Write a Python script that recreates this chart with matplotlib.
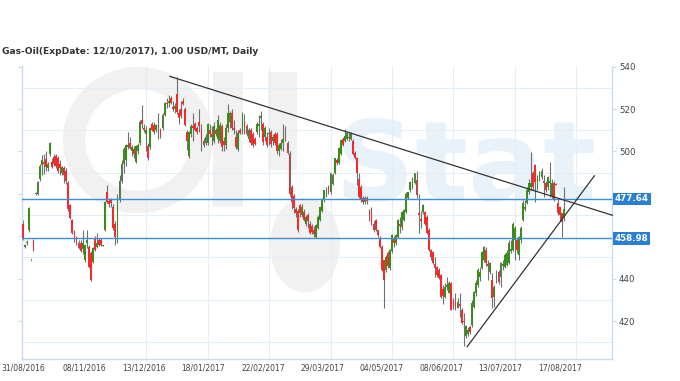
import numpy as np
import matplotlib
matplotlib.use("Agg")
import matplotlib.pyplot as plt
from matplotlib.patches import Ellipse, Rectangle
from matplotlib.transforms import IdentityTransform

title = "Gas-Oil(ExpDate: 12/10/2017), 1.00 USD/MT, Daily"

opens = [466, 455, 457, 463, 448.6, 458, 480.5, 480, 487, 493.5,
         495, 496.5, 492, 499, 495, 497.5, 498, 497, 494, 490,
         492, 491, 485, 474.6, 467.5, 462, 459.5, 457, 457, 454,
         449, 457, 455, 452, 448, 459, 455, 458, 458, 455.6,
         463, 480.7, 476.5, 477, 473.6, 466, 459, 477, 486, 494,
         496, 502, 503.8, 500, 501, 495, 500, 504, 515, 511,
         508, 502.8, 502, 513, 512.5, 510, 512, 510, 511, 517,
         523, 523, 525, 521, 520, 527, 518, 520, 524, 520,
         509, 498, 508, 512, 513, 511, 514, 510, 505, 504,
         504, 510, 508, 505, 510, 506, 505, 512, 505, 503,
         511, 514, 518, 511, 506.6, 501, 510, 509, 514, 512,
         506, 510, 508, 506, 509, 512, 516, 513, 507, 507,
         508, 509, 505, 508, 508, 500, 501, 504, 508, 504,
         499, 483, 479, 473, 472, 474.6, 470, 471.3, 466, 470,
         466, 465, 463, 459.5, 464, 467.5, 472, 477, 480, 483,
         480.7, 484.5, 490, 496, 494.4, 499, 506, 505, 506, 507,
         506, 505, 499.5, 497, 487, 483, 478, 476, 478, 471,
         473, 466, 467.5, 462.8, 459, 455, 448.7, 444, 452, 445,
         453, 459, 457, 459.5, 466, 464.2, 467.5, 471.3, 478, 481.6,
         483, 485, 486.4, 471, 468, 471.3, 471.3, 469, 462.8, 453.4,
         452.5, 447, 445.4, 444, 441.6, 435, 431.3, 436, 433.2, 438,
         429.9, 429, 426, 428, 425, 420, 413, 414, 417, 418,
         426.6, 433, 437, 441, 445, 449, 453.4, 447, 443, 439.3,
         431.3, 440, 443, 440.7, 446, 445.4, 446.4, 447.3, 453, 453.4,
         458, 458, 451, 458, 467.5, 473, 475.5, 480.7, 483, 489.6,
         493.4, 483, 487.3, 488, 486, 485, 483, 485, 479, 485,
         484.5, 475.5, 473.6, 470.8, 469]
highs = [467.5, 456.5, 458, 474, 449, 458.5, 481, 486, 494, 498.5,
         499, 500, 495, 504.5, 497, 499, 499, 498, 496, 493,
         493, 492, 486, 475, 468, 463, 460, 458, 458, 463,
         456, 463, 456, 453, 455, 460, 461.5, 459, 459, 456,
         476.5, 484, 478, 478, 475, 467, 480, 489, 496, 502,
         503.5, 509, 507, 503, 502.5, 503, 504, 515, 522, 513,
         512, 504, 511.5, 514, 514, 513, 518, 511, 518, 523.5,
         525, 526.5, 526, 524, 523, 535, 520, 524, 525, 521,
         510, 509.5, 513, 518, 514, 512, 520, 513, 506.5, 508,
         513.5, 513, 512, 514, 511, 517, 514, 513, 507, 513,
         522.6, 519, 520, 515, 510, 510, 511, 518.5, 517.5, 513,
         511, 511, 509, 507, 514, 517, 519, 514, 512, 509,
         511, 510, 508, 509, 509, 504, 506, 513, 512, 505,
         500, 484, 480, 474, 473, 475, 475, 473, 470, 471,
         467, 466, 465, 466, 470, 474, 478, 482, 483, 484,
         490, 490, 497, 497, 502, 505.5, 507, 510.7, 509, 509,
         509, 506, 500, 497.5, 490, 484, 479, 479, 479, 473,
         474, 467, 468, 463, 460, 456, 449, 451, 453, 454,
         461, 460, 461, 468, 469, 472, 473, 481, 481, 486,
         488, 490, 491, 480, 472, 475, 472, 470, 464, 454,
         453, 450, 446, 445, 442, 437, 438, 440.7, 439, 438.5,
         431, 433, 431, 433, 426, 424, 418, 417, 418, 430,
         434, 439.5, 445, 445.5, 453, 455.5, 455, 448.7, 448, 442.6,
         437, 444, 444, 448, 448.7, 452, 453.4, 458, 458, 466.6,
         465, 459, 460, 465, 477, 477, 483, 487, 499.7, 491,
         494, 489, 491, 492, 488.7, 486, 488.5, 495, 487, 486,
         485, 478, 474, 471, 483]
lows = [458, 454.5, 456, 462, 448.4, 453, 479.5, 479.5, 486, 489,
        489.5, 491, 491, 498, 492, 493, 492, 490, 489, 489,
        485, 484.5, 472, 468, 461, 457.5, 456, 454, 452.5, 451.5,
        448, 454.5, 445, 439, 447.5, 453, 454.5, 455.5, 455.5, 455.4,
        462.5, 475.5, 474, 474, 463, 455.8, 457, 476, 485, 490,
        493, 501, 501, 498, 497, 494.5, 499, 503, 511, 509,
        500, 496, 501, 509.5, 508, 509, 506, 506.5, 510, 516.5,
        520.5, 521, 522.5, 519, 518, 517.5, 513, 516, 522, 512,
        500.5, 497, 507, 505, 509.5, 508, 509, 500, 502, 503,
        503, 507, 503, 504, 507.5, 504, 504, 500, 500, 501,
        509, 511, 510, 508, 501, 500, 508, 508, 508, 507.5,
        504.5, 503, 502, 503, 508, 507, 510, 503, 505, 502,
        503, 502, 503, 503, 499, 498, 500.5, 500, 505, 499,
        479, 473, 471, 469, 462, 469, 469, 467, 465, 464,
        461, 461, 459.5, 459, 463.5, 467, 471.5, 476, 478.5, 480,
        480, 484, 489.5, 493.5, 494, 498.5, 502.5, 504.5, 505.5, 505,
        505.5, 498.5, 496.5, 484, 478, 476, 475, 475, 475, 467,
        465.5, 462, 462.5, 459.5, 454.5, 443.5, 426, 443, 445, 444,
        452, 455, 456, 459, 461.4, 463, 467, 471, 477.5, 481,
        482.5, 484.5, 478, 461.4, 464, 470.5, 465.5, 461, 453, 448.7,
        447, 440.7, 441, 440, 431, 428, 431, 434.6, 433, 425,
        425.5, 425, 426, 422, 418.5, 408, 412, 413, 414, 417,
        426, 432, 436, 439, 444.5, 448, 446, 439.3, 442, 426,
        426.6, 438, 437.5, 436, 444, 445, 446, 447, 452, 453,
        448.7, 452, 448.7, 457, 467, 472, 475, 480, 481.6, 482,
        476, 482, 486, 487, 478.4, 481, 482, 478.4, 478, 476.5,
        484, 470, 467, 459.5, 467]
closes = [459, 456, 457.5, 473.5, 448.8, 453.5, 479.8, 485.5, 493, 496,
          494, 492.5, 494, 504, 492.5, 494, 493, 491, 492, 492.5,
          489, 486, 473, 468.5, 461.4, 458, 456.7, 454.4, 453, 457,
          455.8, 458, 445.4, 439.3, 454.4, 453.4, 457, 456, 456, 455.9,
          476, 476, 475, 475.5, 464, 459.5, 478, 486, 494, 501,
          503, 503, 501.4, 502, 499, 502.8, 503, 514, 513, 510,
          510, 497, 511, 510, 509, 512.5, 511.5, 507.5, 517, 523,
          522.5, 524, 523, 520, 521.5, 518.5, 516, 516.5, 522.5, 512.3,
          505, 509, 512, 511, 510, 509, 512, 506, 503, 507,
          513, 508, 507, 512, 508, 515, 512.5, 502, 503, 511,
          518, 518, 511, 510, 502, 508.5, 508.5, 517.5, 511, 508,
          510, 504, 503, 503.5, 513, 513, 516.5, 504.5, 511, 503,
          508, 503.5, 507, 504, 500, 503, 504, 506, 509, 499.5,
          480, 476, 473.5, 471, 463, 470.8, 474, 467.5, 469, 467,
          461.4, 462, 461, 465.5, 469, 473.6, 477, 481.6, 481, 480.7,
          489.6, 489, 496.7, 494.4, 501.4, 505.2, 503, 507.5, 508.5, 506.5,
          508, 499, 497, 490, 478.4, 477, 476, 478, 476.5, 470,
          466, 463, 463, 460.5, 455, 444, 439.3, 450, 446, 453.4,
          460.5, 456.7, 460.5, 467.5, 465, 471.3, 472.2, 480, 480.7, 485.4,
          487.3, 489.6, 479.3, 470, 467, 474.6, 466, 461.4, 453.4, 450,
          447.3, 445, 441.6, 440.5, 431.3, 432, 436, 437, 438, 425.2,
          426, 427, 429, 427, 419, 419.5, 417.6, 416, 415, 428.5,
          433.5, 438, 444, 443, 452.5, 455, 447.3, 446, 447.3, 430.8,
          436, 441, 438.4, 447.3, 447, 451, 452, 456.7, 454, 466,
          463.8, 453.4, 459.5, 463.8, 475.5, 474, 481.6, 485, 485, 483,
          485.4, 487.3, 490, 491, 485, 481.6, 487.8, 486, 485, 477,
          484, 470.8, 470, 466.6, 473]

levels = [477.64, 458.98]
date_labels = ["31/08/2016", "08/11/2016", "13/12/2016", "18/01/2017", "22/02/2017",
               "29/03/2017", "04/05/2017", "08/06/2017", "13/07/2017", "17/08/2017"]
date_label_bars = [0, 30, 59, 88, 117, 146, 175, 204, 233, 262]
y_ticks = [420, 440, 460, 480, 500, 520, 540]
y_tick_labels = ["420", "440", "", "", "500", "520", "540"]  # 460/480 sit under the level boxes
# trend lines drawn on the chart (bar index, price)
trend_down_x = [71.6, 287.6]
trend_down_y = [535.4, 469.9]
trend_up_x = [216.7, 278.8]
trend_up_y = [407.9, 488.5]

W, H = 680, 381
fig = plt.figure(figsize=(W / 100, H / 100), dpi=100)
ax = fig.add_axes([22 / W, 22 / H, 590 / W, 293 / H])
ax.set_xlim(-0.6, 287.4)
ax.set_ylim(402.1, 540.3)

# faint "OilStat" watermark (drawn in pixel coordinates, behind everything)
wm_gray = "#f1f1f1"
pix = IdentityTransform()
def P(px, py):
    return (px, H - py)
ax.add_patch(Ellipse(P(138, 140), 128, 124, fill=False, ec=wm_gray, lw=16,
                     transform=pix, zorder=0.2))
for (x0, y0, x1, y1) in [(213, 72, 243, 207), (268, 72, 297, 170)]:
    ax.add_patch(Rectangle(P(x0, y1), x1 - x0, y1 - y0, fc=wm_gray, ec="none",
                           transform=pix, zorder=0.2))
ax.add_patch(Ellipse(P(305, 245), 70, 95, fc=wm_gray, ec="none", transform=pix, zorder=0.2))
ax.text(335, H - 200, "Stat", transform=pix, fontsize=80, fontweight="bold",
        color="#e9f1f9", zorder=0.2, ha="left", va="baseline", clip_on=False)

# grid
ax.set_yticks(y_ticks)
ax.set_yticklabels(y_tick_labels)
ax.set_yticks(np.arange(410, 531, 20), minor=True)
ax.set_xticks(date_label_bars)
ax.set_xticklabels(date_labels)
ax.set_xticks(np.arange(0, 271, 30), minor=True)
ax.grid(which="minor", color="#e4eef8", lw=0.8, zorder=0.5)
ax.grid(which="major", visible=False)

spc = "#c9dcef"
for s in ["left", "right", "bottom"]:
    ax.spines[s].set_color(spc)
    ax.spines[s].set_linewidth(1)
ax.spines["top"].set_visible(False)
ax.tick_params(axis="y", which="major", left=True, right=True, labelleft=False,
               labelright=True, direction="out", length=3, color=spc,
               labelcolor="#444444", labelsize=6.2, pad=2)
ax.tick_params(axis="y", which="minor", left=False, right=False)
ax.tick_params(axis="x", which="major", length=0, labelsize=5.5, labelcolor="#444444", pad=3)
ax.tick_params(axis="x", which="minor", length=0)

# candles
o = np.array(opens); h = np.array(highs); l = np.array(lows); c = np.array(closes)
x = np.arange(len(o))
ax.vlines(x, l, h, color="#707070", lw=0.8, zorder=2)
up = c >= o
body_b = np.minimum(o, c)
body_h = np.maximum(np.abs(c - o), 0.5)
ax.bar(x[up], body_h[up], bottom=body_b[up], width=0.9, color="#3a8c1c", zorder=3, linewidth=0)
ax.bar(x[~up], body_h[~up], bottom=body_b[~up], width=0.9, color="#f52a2a", zorder=3, linewidth=0)

# levels
for lv in levels:
    ax.axhline(lv, color="#3b8ede", lw=1, zorder=4)
    ax.text(1.0047, lv, f"{lv:.2f}", transform=ax.get_yaxis_transform(), ha="left",
            va="center", color="white", fontsize=6.3, fontweight="bold", zorder=10,
            clip_on=False,
            bbox=dict(boxstyle="square,pad=0.2", fc="#2a7fd4", ec="none"))

# trend lines
ax.plot(trend_down_x, trend_down_y, color="#333333", lw=0.9, zorder=5, clip_on=False)
ax.plot(trend_up_x, trend_up_y, color="#333333", lw=0.9, zorder=5)

fig.text(2 / W, 1 - 52 / H, title, fontsize=6.6, fontweight="bold", color="#333333",
         ha="left", va="center")

fig.savefig("out.png", dpi=100)
